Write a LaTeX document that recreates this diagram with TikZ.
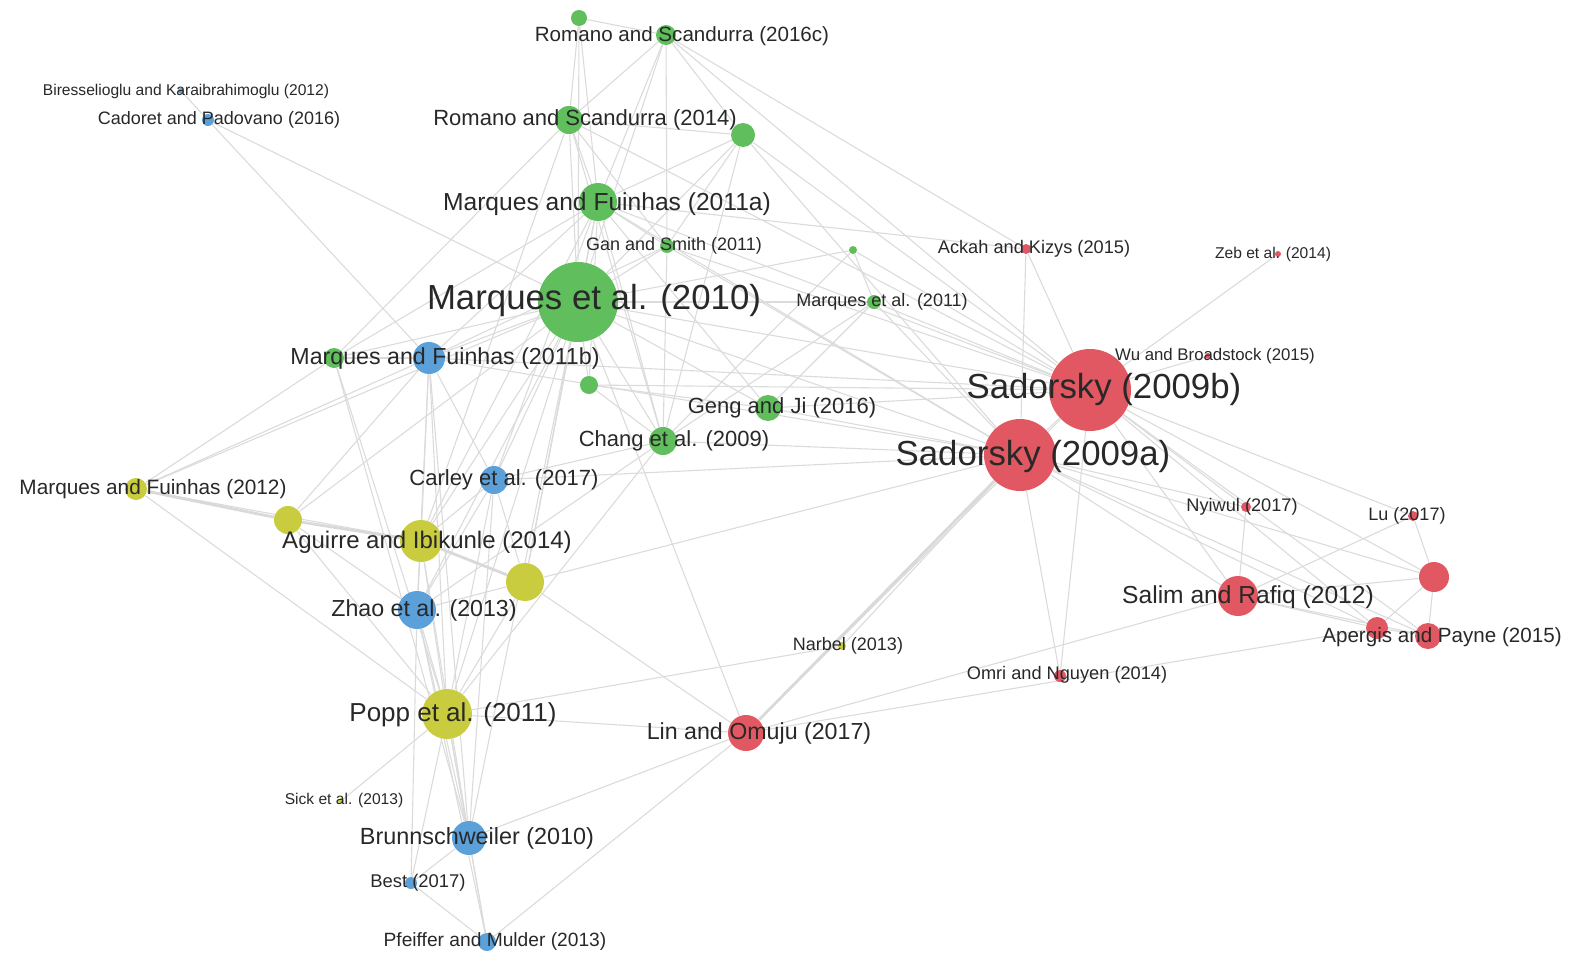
\documentclass[tikz,border=0pt]{standalone}
\usepackage{fontspec}
\setmainfont{Liberation Sans}
\usetikzlibrary{backgrounds}

\definecolor{vgreen}{RGB}{96,190,92}
\definecolor{vblue}{RGB}{92,160,218}
\definecolor{vyellow}{RGB}{200,204,62}
\definecolor{vred}{RGB}{226,88,98}
\definecolor{labcol}{RGB}{40,40,40}

\tikzset{
  gnode/.style={circle,fill=vgreen,inner sep=0pt,minimum size=#1pt},
  bnode/.style={circle,fill=vblue,inner sep=0pt,minimum size=#1pt},
  ynode/.style={circle,fill=vyellow,inner sep=0pt,minimum size=#1pt},
  rnode/.style={circle,fill=vred,inner sep=0pt,minimum size=#1pt},
  lab/.style={font=\fontsize{#1}{#1}\selectfont,text=labcol,inner sep=0pt},
  link/.style={draw=gray!28,line width=0.55pt},
  thicklink/.style={draw=gray!30,line width=1.4pt}
}

\begin{document}
\begin{tikzpicture}[x=0.5pt,y=-0.5pt]

\useasboundingbox (0,0) rectangle (1576,959);

% Cluster verte
\foreach \n/\x/\y/\r in {gA/579/18/8, rs16/666/35/10, rs14/569/120/14,
  gB/743/135/12, mf11a/598/202/19, gs11/667/246/7, gC/853/250/4,
  m10/578/302/40, me11/874/302/7, gD/334/358/10, gE/589/385/9,
  gj16/768/408/13, ch09/663/441/14}
{
    \node[gnode=\r] (\n) at (\x,\y) {};
}

% Cluster bleue
\foreach \n/\x/\y/\r in {bk12/181/91/3, cp16/208/120/6, mf11b/429/358/16,
  ca17/494/480/14, zh13/417/610/19, br10/469/838/17, be17/411/883/6,
  pm13/487/942/9}
{
    \node[bnode=\r] (\n) at (\x,\y) {};
}

% Cluster jaune
\foreach \n/\x/\y/\r in {mf12/136/489/11, yA/288/520/14, ai14/421/541/21,
  yB/525/582/19, po11/447/714/25, na13/842/646/4, si13/341/801/3}
{
    \node[ynode=\r] (\n) at (\x,\y) {};
}

% Cluster rouge
\foreach \n/\x/\y/\r in {s09b/1090/390/41, s09a/1020/455/36, ak15/1026/249/5,
  ze14/1278/254/3, wu15/1208/356/3, ny17/1246/507/5, lu17/1413/516/5,
  sa12/1238/596/20, rA/1434/577/15, ap15/1428/636/13, rB/1377/628/11,
  om14/1060/676/6, lo17/746/733/18}
{
    \node[rnode=\r] (\n) at (\x,\y) {};
}

% Liens
\begin{scope}[on background layer]
\foreach \a/\b in {gA/rs16, gA/rs14, gA/mf11a, gA/m10, rs16/rs14, rs16/mf11a,
  rs16/m10, rs16/gB, rs16/gs11, rs14/mf11a, rs14/m10, rs14/gB, rs14/gs11,
  rs14/gD, rs14/ch09, gB/mf11a, gB/m10, gB/gs11, gB/ch09, mf11a/m10,
  mf11a/gs11, mf11a/gE, mf11a/ch09, mf11a/gD, mf11a/gj16, gs11/m10,
  gs11/ch09, m10/gC, m10/me11, m10/gD, m10/gE, m10/gj16, m10/ch09,
  gC/me11, gC/ch09, me11/ch09, me11/gj16, gE/gj16, gE/ch09}
{
    \draw[link] (\a) -- (\b);
}
\foreach \a/\b in {bk12/mf11b, cp16/m10, mf11b/m10, mf11b/mf11a, mf11b/gD,
  mf11b/ca17, mf11b/zh13, mf11b/br10, mf11b/gs11, ca17/m10, ca17/mf11a,
  ca17/zh13, ca17/br10, ca17/ch09, zh13/m10, zh13/br10, zh13/be17,
  zh13/pm13, br10/be17, br10/pm13, be17/pm13, br10/m10, ch09/po11,
  ch09/zh13}
{
    \draw[link] (\a) -- (\b);
}
\foreach \a/\b in {mf12/ai14, mf12/gD, mf12/mf11b, mf12/m10, mf12/po11,
  yA/m10, yA/mf11b, yA/zh13, yA/po11, ai14/m10, ai14/mf11a, ai14/mf11b,
  ai14/ca17, ai14/zh13, ai14/po11, ai14/br10, ai14/rs14, yB/m10, yB/ca17,
  yB/zh13, yB/po11, yB/mf11a, po11/m10, po11/mf11b, po11/ca17, po11/zh13,
  po11/br10, po11/be17, po11/pm13, po11/si13, po11/gD, po11/na13, gD/br10}
{
    \draw[link] (\a) -- (\b);
}
\foreach \a/\b in {mf12/yA, yA/ai14, ai14/yB}
{
    \draw[thicklink] (\a) -- (\b);
}
\foreach \a/\b in {s09b/s09a, s09b/ak15, s09a/ak15, s09b/ze14, s09b/wu15,
  s09b/ny17, s09a/ny17, s09b/lu17, s09b/sa12, s09a/sa12, s09b/rA,
  s09a/rA, s09b/ap15, s09a/ap15, s09b/rB, s09a/rB, s09a/om14, s09b/om14,
  ny17/sa12, lu17/rA, lu17/sa12, sa12/rA, sa12/ap15, sa12/rB, rA/ap15,
  rA/rB, rB/ap15, sa12/lo17, lo17/rB}
{
    \draw[link] (\a) -- (\b);
}
\foreach \a/\b in {m10/s09b, m10/s09a, mf11a/s09b, mf11a/s09a, rs16/s09b,
  rs14/s09b, gB/s09a, gB/s09b, gs11/s09b, gs11/s09a, gC/s09b, me11/s09b,
  me11/s09a, gj16/s09b, gj16/s09a, ch09/s09a, gE/s09b, mf11b/s09b,
  mf11b/s09a, ca17/s09a, yB/s09a, s09a/na13, s09b/lo17, m10/lo17,
  yB/lo17, po11/lo17, br10/lo17, pm13/lo17, mf11a/ak15, rs16/ak15}
{
    \draw[link] (\a) -- (\b);
}
\draw[thicklink] (s09a) -- (lo17);
\end{scope}

% Etiquettes
\node[lab=10.3] (rs16-t) at (682,36) {Romano and Scandurra (2016c)};
\node[lab=11] (rs14-t) at (585,120) {Romano and Scandurra (2014)};
\node[lab=12.3] (mf11a-t) at (607,204) {Marques and Fuinhas (2011a)};
\node[lab=9] (gs11-t) at (674,246) {Gan and Smith (2011)};
\node[lab=17.4] (m10-t) at (594,300) {Marques et al. (2010)};
\node[lab=9] (me11-t) at (882,302) {Marques et al. (2011)};
\node[lab=11.6] (mf11b-t) at (445,358) {Marques and Fuinhas (2011b)};
\node[lab=11] (gj16-t) at (782,408) {Geng and Ji (2016)};
\node[lab=11] (ch09-t) at (674,441) {Chang et al. (2009)};

\node[lab=7.8] (bk12-t) at (186,91) {Biresselioglu and Karaibrahimoglu (2012)};
\node[lab=9] (cp16-t) at (219,120) {Cadoret and Padovano (2016)};
\node[lab=11] (ca17-t) at (504,480) {Carley et al. (2017)};
\node[lab=11.6] (zh13-t) at (424,610) {Zhao et al. (2013)};
\node[lab=11.7] (br10-t) at (477,838) {Brunnschweiler (2010)};
\node[lab=9.2] (be17-t) at (418,883) {Best (2017)};
\node[lab=9.6] (pm13-t) at (495,942) {Pfeiffer and Mulder (2013)};

\node[lab=10.4] (mf12-t) at (153,489) {Marques and Fuinhas (2012)};
\node[lab=12] (ai14-t) at (427,542) {Aguirre and Ibikunle (2014)};
\node[lab=13] (po11-t) at (453,715) {Popp et al. (2011)};
\node[lab=9] (na13-t) at (848,646) {Narbel (2013)};
\node[lab=7.8] (si13-t) at (344,800) {Sick et al. (2013)};

\node[lab=17.4] (s09b-t) at (1104,389) {Sadorsky (2009b)};
\node[lab=17.4] (s09a-t) at (1033,456) {Sadorsky (2009a)};
\node[lab=9.1] (ak15-t) at (1034,249) {Ackah and Kizys (2015)};
\node[lab=7.8] (ze14-t) at (1273,254) {Zeb et al. (2014)};
\node[lab=8.4] (wu15-t) at (1215,356) {Wu and Broadstock (2015)};
\node[lab=9.1] (ny17-t) at (1242,507) {Nyiwul (2017)};
\node[lab=9] (lu17-t) at (1407,516) {Lu (2017)};
\node[lab=12.3] (sa12-t) at (1248,597) {Salim and Rafiq (2012)};
\node[lab=10.3] (ap15-t) at (1442,637) {Apergis and Payne (2015)};
\node[lab=9.1] (om14-t) at (1067,675) {Omri and Nguyen (2014)};
\node[lab=11.6] (lo17-t) at (759,733) {Lin and Omuju (2017)};

\end{tikzpicture}
\end{document}
